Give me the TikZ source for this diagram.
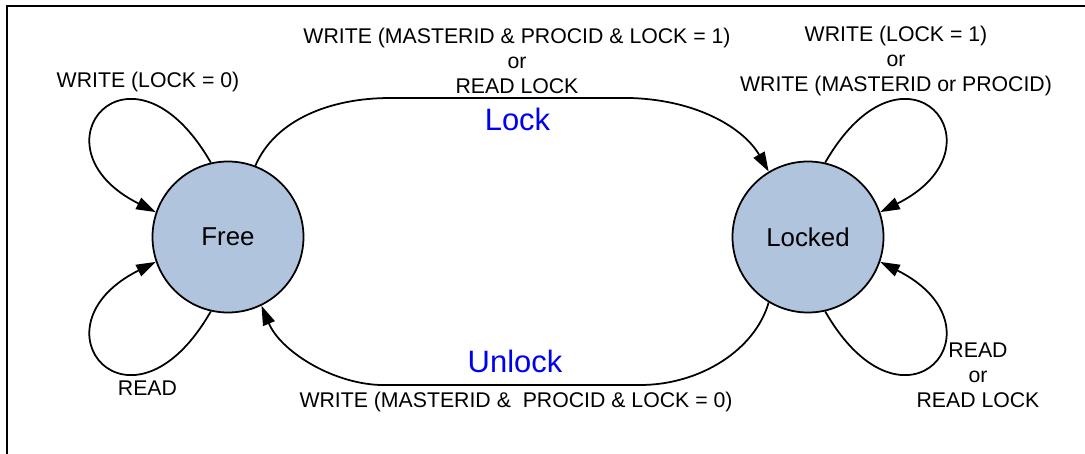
\documentclass[tikz,border=0pt]{standalone}
\usepackage{fontspec}
\setmainfont{Liberation Sans}
\usetikzlibrary{arrows.meta}
\definecolor{statefill}{RGB}{176,196,222}
\definecolor{transblue}{RGB}{0,0,240}
\begin{document}
\begin{tikzpicture}[
        state/.style={circle, draw, line width=1pt, fill=statefill, minimum size=3.02cm, inner sep=0pt, font=\fontsize{14.7}{17}\selectfont},
        cond/.style={align=center, inner sep=0pt, font=\fontsize{12.1}{14.2}\selectfont},
        transname/.style={inner sep=0pt, text=transblue, font=\fontsize{17.6}{20}\selectfont},
        trans/.style={line width=1pt, -{Triangle[length=0.39cm, width=0.25cm]}}]
        \useasboundingbox (0, 0) rectangle (21.7, -9.06);
        \draw[line width=1.3pt] (21.8, -0.12) -- (0.14, -0.12) -- (0.14, -9.2);
        \node[state] (free) at (4.56, -4.74) {Free};
        \node[state] (locked) at (16.16, -4.74) {Locked};
        \node[cond] (c0) at (2.96, -1.64) {WRITE (LOCK = 0)};
        \node[cond] (c1) at (10.34, -1.22) {WRITE (MASTERID \& PROCID \& LOCK = 1)\\or\\READ LOCK};
        \node[cond] (c2) at (17.92, -1.22) {WRITE (LOCK = 1)\\or\\WRITE (MASTERID or PROCID)};
        \node[cond] (c3) at (10.32, -8.04) {WRITE (MASTERID \&\ \ PROCID \& LOCK = 0)};
        \node[cond] (c4) at (2.95, -7.76) {READ};
        \node[cond] (c5) at (19.56, -7.5) {READ\\or\\READ LOCK};
        \node[transname] (n0) at (10.35, -2.38) {Lock};
        \node[transname] (n1) at (10.3, -7.22) {Unlock};
        \draw[trans] (free.69) .. controls (5.5, -2.4) and (6.6, -1.96) .. (7.8, -1.96) -- (12.6, -1.96) .. controls (14, -2) and (14.9, -2.6) .. (locked.121);
        \draw[trans] (locked.239) .. controls (15.1, -7) and (14, -7.7) .. (12.8, -7.7) -- (7.6, -7.7) .. controls (6.6, -7.66) and (5.6, -7) .. (free.296);
        \draw[trans] (free.103) .. controls +(-1.6, 2.78) and +(-2.6, 1.3) .. (free.161);
        \draw[trans] (free.257) .. controls +(-1.6, -2.78) and +(-2.6, -1.3) .. (free.199);
        \draw[trans] (locked.77) .. controls +(1.6, 2.78) and +(2.6, 1.3) .. (locked.19);
        \draw[trans] (locked.283) .. controls +(1.6, -2.78) and +(2.6, -1.3) .. (locked.341);
        \end{tikzpicture}
\end{document}
